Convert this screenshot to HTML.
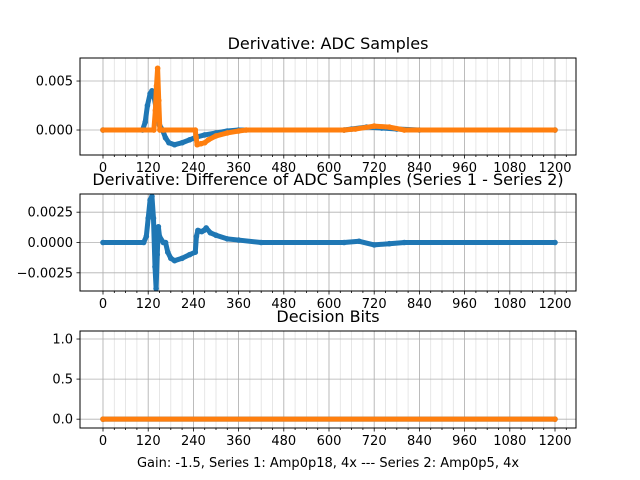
<!DOCTYPE html>
<html><head><meta charset="utf-8"><style>
html,body{margin:0;padding:0;background:#fff;}
svg{display:block;font-family:"DejaVu Sans","Liberation Sans",sans-serif;}
</style></head><body>
<svg id="fig" width="640" height="480" viewBox="0 0 640 480" xmlns="http://www.w3.org/2000/svg"></svg>
<script>
// ---- data ----
const xTicks = [0,120,240,360,480,600,720,840,960,1080,1200];
const s1X = [0,105,112,118,125,130,136,142,150,158,166,175,190,210,230,250,270,300,330,360,640,660,700,740,780,840,1200];
const s1Y = [0,0,0.0008,0.0025,0.0037,0.0040,0.0033,0.0020,0.0005,0,-0.0008,-0.0013,-0.0015,-0.0013,-0.0010,-0.0007,-0.0005,-0.0003,-0.0001,0,0,0.0001,0.0003,0.0002,0.0001,0,0];
const s2X = [0,135,139,142,145,148,151,160,245,247,250,260,270,280,300,330,360,380,640,670,720,760,800,1200];
const s2Y = [0,0,0.002,0.0045,0.0063,0.003,0,0,0,-0.0007,-0.0015,-0.0014,-0.0013,-0.0010,-0.0006,-0.0003,-0.0001,0,0,0.0001,0.0004,0.0003,0,0];
const dX = [0,108,115,120,125,130,134,138,141,144,147,150,160,166,172,180,190,210,230,245,248,252,262,268,274,285,300,330,360,420,640,680,720,760,800,1200];
const dY = [0,0,0.0005,0.002,0.0035,0.0038,0.002,-0.002,-0.0038,-0.001,0.0013,0.0005,0,0,-0.0008,-0.0013,-0.0015,-0.0013,-0.0010,-0.0008,0.0005,0.0010,0.0009,0.0010,0.0012,0.0008,0.0006,0.0003,0.0002,0,0,0.0001,-0.0002,-0.0001,0,0];
const bX = [0,1200];
const b1Y = [0,0];
const b2Y = [0,0];
const topTicks = [0,0.005], topLabels = ["0.000","0.005"];
const midTicks = [-0.0025,0,0.0025], midLabels = ["\u22120.0025","0.0000","0.0025"];
const botTicks = [0,0.5,1.0], botLabels = ["0.0","0.5","1.0"];

const NS="http://www.w3.org/2000/svg";
const svg=document.getElementById('fig');
function el(tag,attrs,parent){const e=document.createElementNS(NS,tag);for(const k in attrs)e.setAttribute(k,attrs[k]);(parent||svg).appendChild(e);return e;}
const X0=80,X1=576;
const xs=v=>103+v*(452/1200);

function panel(name,top,bot,ymin,ymax,yt,yl,title,titleY,series){
  const g=el('g',{});
  
  
  const ys=v=>bot-(v-ymin)/(ymax-ymin)*(bot-top);
  // minor grid
  for(let v=0;v<=1290;v+=30){const x=xs(v);if(x<X0||x>X1)continue;
    const l=el('line',{x1:x,x2:x,y1:top,y2:bot,stroke:'#e0e0e0','stroke-width':0.8},g);
    }
  xTicks.forEach(v=>{const x=xs(v);
    const l=el('line',{x1:x,x2:x,y1:top,y2:bot,stroke:'#b0b0b0','stroke-width':0.8},g);
    });
  yt.forEach(v=>{const y=ys(v);
    const l=el('line',{x1:X0,x2:X1,y1:y,y2:y,stroke:'#b0b0b0','stroke-width':0.8},g);
    });
  series.forEach(s=>{
    const pts=s.x.map((v,i)=>xs(v)+','+ys(s.y[i])).join(' ');
    const p=el('polyline',{points:pts,fill:'none',stroke:s.c,'stroke-width':5,'stroke-linejoin':'round','stroke-linecap':'round'},g);
    
    s.x.forEach((v,i)=>{const c=el('circle',{cx:xs(v),cy:ys(s.y[i]),r:2.8,fill:s.c},g);
      });
  });
  const f=el('rect',{x:X0,y:top,width:X1-X0,height:bot-top,fill:'none',stroke:'#000','stroke-width':1},g);
  
  for(let v=0;v<=1290;v+=30){const x=xs(v);if(x<X0||x>X1)continue;const major=v%120===0;
    const t=el('line',{x1:x,x2:x,y1:bot,y2:bot+(major?3.5:2),stroke:'#000','stroke-width':0.8},g);
    }
  xTicks.forEach(v=>{const t=el('text',{x:xs(v),y:bot+17,'font-size':13,'text-anchor':'middle',fill:'#000'},g);
    t.textContent=v;});
  yt.forEach((v,i)=>{const y=ys(v);
    const t=el('line',{x1:X0-3.5,x2:X0,y1:y,y2:y,stroke:'#000','stroke-width':0.8},g);
    
    const tx=el('text',{x:X0-7,y:y+4.5,'font-size':13,'text-anchor':'end',fill:'#000'},g);
    tx.textContent=yl[i];});
  const tt=el('text',{x:328,y:titleY,'font-size':16,'text-anchor':'middle',fill:'#000'},g);
  tt.textContent=title;
}
const B='#1f77b4',O='#ff7f0e';
panel('adc-samples-panel',58,155,-0.00255,0.00735,topTicks,topLabels,'Derivative: ADC Samples',49,
  [{x:s1X,y:s1Y,c:B,n:'series-1-line'},{x:s2X,y:s2Y,c:O,n:'series-2-line'}]);
panel('difference-panel',194,291,-0.004,0.004,midTicks,midLabels,'Derivative: Difference of ADC Samples (Series 1 - Series 2)',185,
  [{x:dX,y:dY,c:B,n:'difference-line'}]);
panel('decision-bits-panel',331,428,-0.11,1.1,botTicks,botLabels,'Decision Bits',322,
  [{x:bX,y:b1Y,c:B,n:'bits-series-1'},{x:bX,y:b2Y,c:O,n:'bits-series-2'}]);
const xl=el('text',{x:328,y:467,'font-size':13,'text-anchor':'middle',fill:'#000'});
xl.textContent='Gain: -1.5, Series 1: Amp0p18, 4x --- Series 2: Amp0p5, 4x';


</script>
</body></html>
